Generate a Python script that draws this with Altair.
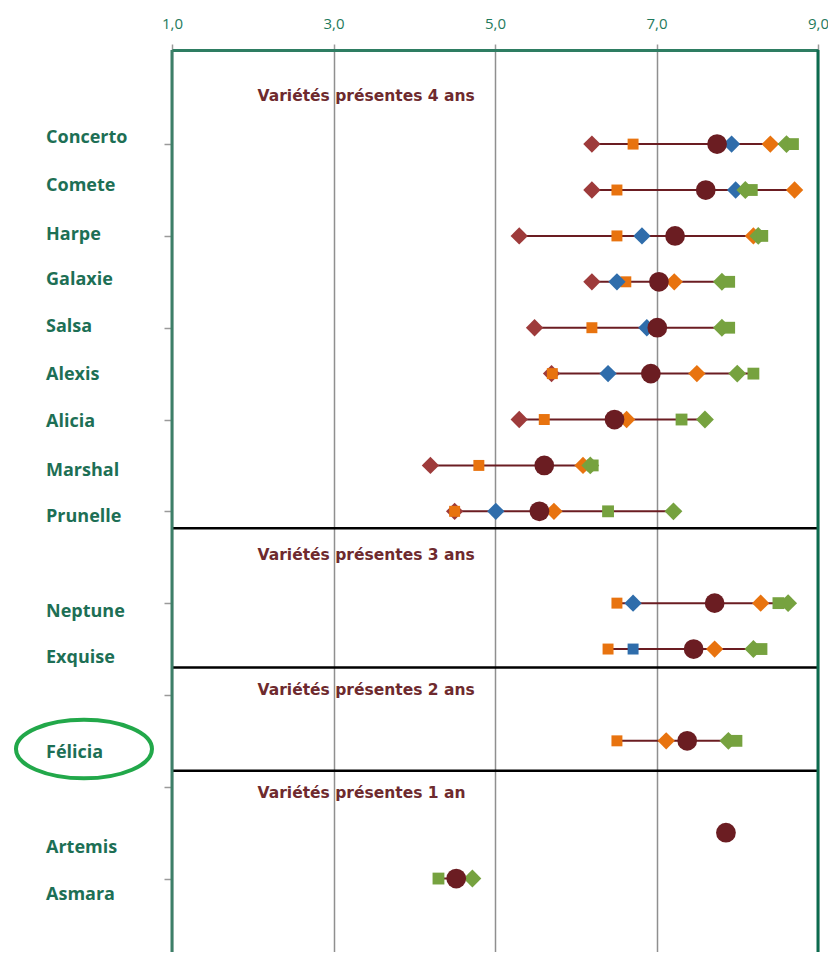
import altair as alt
import pandas as pd

# ---------------- data ----------------
VARIETIES = ["Concerto", "Comete", "Harpe", "Galaxie", "Salsa", "Alexis", "Alicia",
             "Marshal", "Prunelle", "Neptune", "Exquise", "Félicia", "Artemis", "Asmara"]
ROW = [0, 1, 2, 3, 4, 5, 6, 7, 8, 10, 11, 13, 15, 16]

MEAN = [7.75, 7.61, 7.23, 7.03, 7.01, 6.93, 6.48, 5.61, 5.55, 7.72, 7.46, 7.38, 7.86, 4.52]
RED_DIAMOND = [6.20, 6.20, 5.30, 6.20, 5.49, 5.70, 5.30, 4.20, 4.50, None, None, None, None, None]
ORANGE_SQUARE = [6.71, 6.51, 6.51, 6.62, 6.20, 5.71, 5.61, 4.80, 4.50, 6.51, 6.40, 6.51, None, None]
BLUE_DIAMOND = [7.93, 7.98, 6.82, 6.51, 6.88, 6.40, None, None, 5.01, 6.71, None, None, None, None]
BLUE_SQUARE = [None, None, None, None, None, None, None, None, None, None, 6.71, None, None, None]
ORANGE_DIAMOND = [8.41, 8.71, 8.20, 7.22, None, 7.50, 6.63, 6.09, 5.73, 8.29, 7.72, 7.12, None, None]
GREEN_DIAMOND = [8.61, 8.10, 8.26, 7.81, 7.81, 8.00, 7.60, 6.18, 7.21, 8.63, 8.20, 7.89, None, 4.72]
GREEN_SQUARE = [8.69, 8.18, 8.31, 7.90, 7.90, 8.20, 7.31, 6.21, 6.40, 8.51, 8.30, 7.99, None, 4.30]

SERIES_NAMES = ["s1", "s2", "s3", "s4", "s5", "s6", "s7"]
SERIES_VALUES = [RED_DIAMOND, ORANGE_SQUARE, BLUE_DIAMOND, BLUE_SQUARE,
                 ORANGE_DIAMOND, GREEN_DIAMOND, GREEN_SQUARE]

SECTION_TITLES = ["Variétés présentes 4 ans", "Variétés présentes 3 ans",
                  "Variétés présentes 2 ans", "Variétés présentes 1 an"]
SEPARATORS = [8.37, 11.40, 13.65]
X_TICKS = [1, 3, 5, 7, 9]
Y_TICKS = [0, 2, 4, 6, 8, 10, 12, 14, 16]

# ---------------- layout / style ----------------
TITLE_POS = [-1.05, 8.95, 11.9, 14.14]
LABEL_POS = [-0.13, 0.92, 1.98, 2.96, 3.99, 5.03, 6.06, 7.12, 8.12, 10.2, 11.2, 13.27, 15.34, 16.36]
SERIES_COLORS = ["#9e3b3b", "#e8730f", "#2f6dab", "#2f6dab", "#e8730f", "#76a23f", "#76a23f"]
SERIES_SHAPES = ["diamond", "square", "diamond", "square", "diamond", "diamond", "square"]
SERIES_SIZES = [300, 120, 300, 120, 300, 320, 140]

GREEN_TXT = "#1d6f55"
MAROON = "#6b1d22"

rows = []
for s_i, (name, vals) in enumerate(zip(SERIES_NAMES, SERIES_VALUES)):
    for v, r, val in zip(VARIETIES, ROW, vals):
        if val is not None:
            rows.append({"variety": v, "row": r, "series": name, "value": val, "order": s_i,
                         "col": SERIES_COLORS[s_i], "shp": SERIES_SHAPES[s_i],
                         "sz": SERIES_SIZES[s_i]})
pts = pd.DataFrame(rows).sort_values("order", kind="stable")

mean_df = pd.DataFrame({"variety": VARIETIES, "row": ROW, "value": MEAN})

allv = pd.concat([pts[["variety", "row", "value"]], mean_df])
rng = allv.groupby(["variety", "row"]).value.agg(["min", "max"]).reset_index()
rng = rng[rng["max"] > rng["min"]]

labels_df = pd.DataFrame({"variety": VARIETIES, "pos": LABEL_POS, "x": -0.56})
titles_df = pd.DataFrame({"title": SECTION_TITLES, "pos": TITLE_POS, "x": 2.06})
sep_df = pd.DataFrame({"pos": SEPARATORS})
ell_df = pd.DataFrame({"x": [-0.09], "pos": [13.18]})

Y_DOMAIN = [-2.05, 17.60]
xscale = alt.Scale(domain=[1, 9], nice=False, zero=False)
yscale = alt.Scale(domain=Y_DOMAIN, reverse=True, nice=False, zero=False)

xaxis = alt.Axis(orient="top", values=X_TICKS, title=None,
                 labelExpr="replace(format(datum.value, '.1f'), '.', ',')",
                 labelColor="#1f7a5c", labelFont="Open Sans", labelFontSize=15,
                 labelFlush=False, labelPadding=13,
                 tickColor="#9a9a9a", tickSize=6, tickWidth=1.5,
                 domainColor="#2e7d62", domainWidth=3,
                 grid=True, gridColor="#8f8f8f", gridWidth=1.5)
yaxis = alt.Axis(orient="left", values=Y_TICKS, title=None, labels=False,
                 domain=False, grid=False, tickColor="#9a9a9a", tickSize=8, tickWidth=1.5)

base_axes = alt.Chart(pd.DataFrame({"x": [1], "pos": [0]})).mark_point(opacity=0).encode(
    x=alt.X("x:Q", scale=xscale, axis=xaxis),
    y=alt.Y("pos:Q", scale=yscale, axis=yaxis),
)

left_border = alt.Chart(pd.DataFrame({"x": [1]})).mark_rule(strokeWidth=3, color="#3d7f68").encode(
    x=alt.X("x:Q", scale=xscale),
)
right_border = alt.Chart(pd.DataFrame({"x": [9]})).mark_rule(strokeWidth=3, color="#0d6b4e").encode(
    x=alt.X("x:Q", scale=xscale),
)

seps = alt.Chart(sep_df).mark_rule(color="black", strokeWidth=2.5).encode(
    y=alt.Y("pos:Q", scale=yscale),
)

lines = alt.Chart(rng).mark_rule(color=MAROON, strokeWidth=2).encode(
    x=alt.X("min:Q", scale=xscale),
    x2="max:Q",
    y=alt.Y("row:Q", scale=yscale),
)

points = alt.Chart(pts).mark_point(filled=True, opacity=1).encode(
    x=alt.X("value:Q", scale=xscale),
    y=alt.Y("row:Q", scale=yscale),
    color=alt.Color("col:N", scale=None),
    shape=alt.Shape("shp:N", scale=None),
    size=alt.Size("sz:Q", scale=None),
    order=alt.Order("order:Q"),
)

means = alt.Chart(mean_df).mark_point(filled=True, opacity=1, shape="circle", size=390, color=MAROON).encode(
    x=alt.X("value:Q", scale=xscale),
    y=alt.Y("row:Q", scale=yscale),
)

labels = alt.Chart(labels_df).mark_text(align="left", baseline="middle", font="Open Sans",
                                        fontWeight="bold", fontSize=18, color=GREEN_TXT).encode(
    x=alt.X("x:Q", scale=xscale),
    y=alt.Y("pos:Q", scale=yscale),
    text="variety:N",
)

titles = alt.Chart(titles_df).mark_text(align="left", baseline="middle", font="DejaVu Sans",
                                        fontWeight="bold", fontSize=15.5, color="#6e2a2e").encode(
    x=alt.X("x:Q", scale=xscale),
    y=alt.Y("pos:Q", scale=yscale),
    text="title:N",
)

ellipse = alt.Chart(ell_df).mark_point(
    shape="M -1 0 A 1 0.43 0 1 0 1 0 A 1 0.43 0 1 0 -1 0 Z",
    size=18500, filled=False, strokeWidth=4, color="#22a84a", opacity=1,
).encode(
    x=alt.X("x:Q", scale=xscale),
    y=alt.Y("pos:Q", scale=yscale),
)

chart = alt.layer(base_axes, seps, lines, points, means, left_border, right_border,
                  labels, titles, ellipse).properties(
    width=646, height=902,
    autosize=alt.AutoSizeParams(type="none"),
    padding={"left": 164, "top": 42, "right": 10, "bottom": 0},
).configure_view(stroke=None).configure(background="white")

chart.save("out.html", embed_options={"renderer": "svg", "actions": False})
